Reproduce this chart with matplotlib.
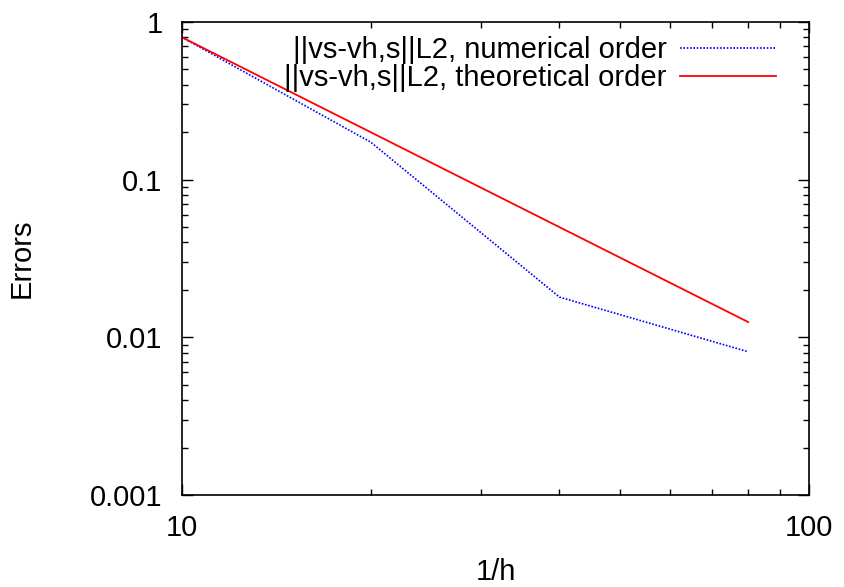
import matplotlib
matplotlib.use('Agg')
import matplotlib.pyplot as plt
from matplotlib.ticker import LogLocator, NullFormatter, FixedLocator, FixedFormatter

plt.rcParams['font.family'] = ['Liberation Sans', 'DejaVu Sans']

inv_h = [10, 20, 40, 80]
err_num = [0.8, 0.173, 0.018, 0.0081]
err_theo = [0.8, 0.2, 0.05, 0.0125]

fig = plt.figure(figsize=(8.44, 5.87), dpi=100)
ax = fig.add_axes([0.2156, 0.1567, 0.7429, 0.8058])

ax.plot(inv_h, err_num, color='blue', lw=1.2, ls=(0, (1, 1)),
        label='||vs-vh,s||L2, numerical order')
ax.plot(inv_h, err_theo, color='red', lw=1.3,
        label='||vs-vh,s||L2, theoretical order')

ax.set_xscale('log')
ax.set_yscale('log')
ax.set_xlim(10, 100)
ax.set_ylim(0.001, 1)

ax.yaxis.set_major_locator(FixedLocator([0.001, 0.01, 0.1, 1]))
ax.yaxis.set_major_formatter(FixedFormatter(['0.001', '0.01', '0.1', '1']))
ax.xaxis.set_major_locator(FixedLocator([10, 100]))
ax.xaxis.set_major_formatter(FixedFormatter(['10', '100']))
ax.xaxis.set_minor_locator(LogLocator(base=10, subs=range(2, 10)))
ax.yaxis.set_minor_locator(LogLocator(base=10, subs=range(2, 10)))
ax.xaxis.set_minor_formatter(NullFormatter())
ax.yaxis.set_minor_formatter(NullFormatter())

ax.tick_params(which='both', direction='in', top=True, right=True,
               labelsize=21, width=1)
ax.tick_params(which='major', length=8)
ax.tick_params(axis='y', which='major', pad=14)
ax.tick_params(axis='x', which='major', pad=14)
ax.tick_params(which='minor', length=4)
for s in ax.spines.values():
    s.set_linewidth(1.2)

ax.set_xlabel('1/h', fontsize=21, labelpad=11)
ax.set_ylabel('Errors', fontsize=21, labelpad=39)

ax.legend(loc='upper right', bbox_to_anchor=(0.989, 1.025), frameon=False,
          markerfirst=False, fontsize=21, handlelength=3.3,
          labelspacing=0.0, handletextpad=0.45)

fig.savefig('out.png', dpi=100)
